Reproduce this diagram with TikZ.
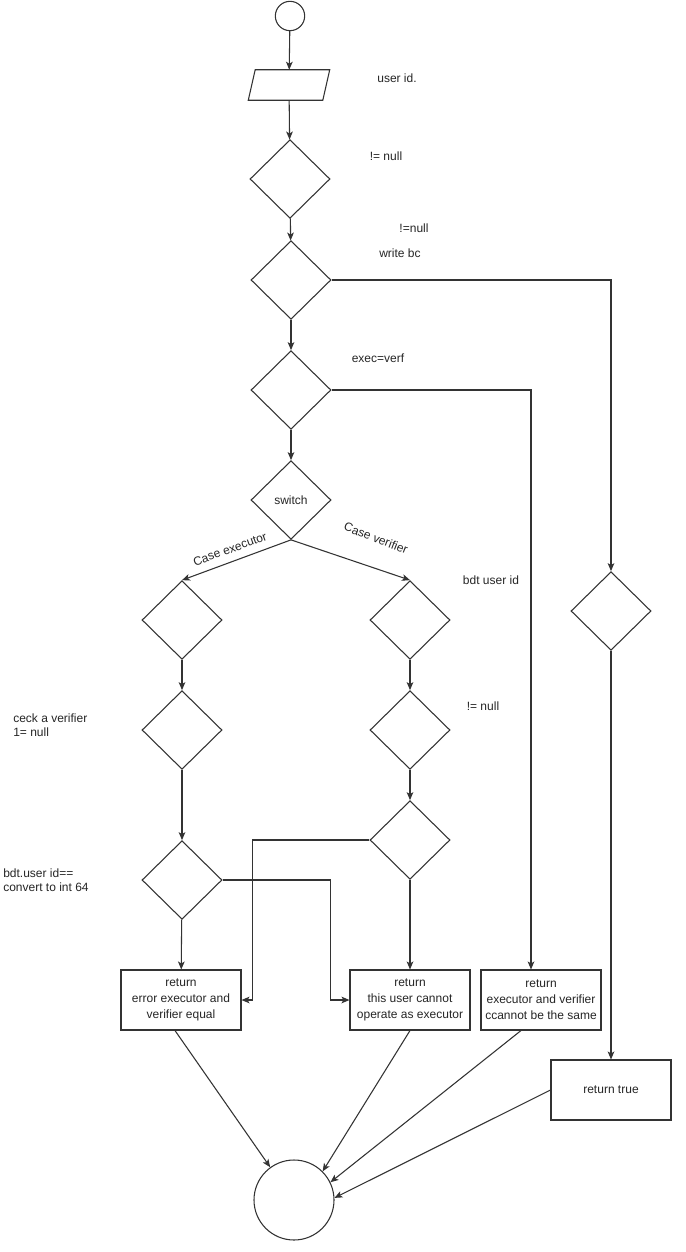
\documentclass[tikz,border=0pt]{standalone}
\usepackage{fontspec}
\setmainfont{Liberation Sans}
\usetikzlibrary{shapes.geometric,arrows.meta,calc}
\begin{document}
\begin{tikzpicture}[x=0.75pt,y=-0.75pt,
  lbl/.style={font=\fontsize{9}{10.5}\selectfont, text=black!85, inner sep=0pt},
  dia/.style={diamond, draw=black!80, line width=0.8pt, fill=white, minimum width=60pt, minimum height=59pt, inner sep=0pt, font=\fontsize{9}{10.5}\selectfont, text=black!85},
  box/.style={rectangle, draw=black!80, line width=0.8pt, fill=white, minimum width=90pt, minimum height=45pt, inner sep=1pt, align=center, font=\fontsize{9}{12}\selectfont, text=black!85},
  term/.style={circle, draw=black!80, line width=0.8pt, fill=white, inner sep=0pt},
  parbox/.style={rectangle, inner sep=0pt, minimum width=55.5pt, minimum height=22.5pt},
  arr/.style={-{Stealth[length=6pt,width=5pt,inset=1.5pt]}, draw=black!80, line width=0.8pt},
  ln/.style={draw=black!80, line width=0.8pt}]
\useasboundingbox[fill=white] (0,0) rectangle (685,1252);

% nodes
\node[term, minimum size=22pt] (start) at (290,16) {};
\node[parbox] (in) at (289,85) {};
\draw[ln, fill=white] ([xshift=2.6pt]in.north west) -- ([xshift=2.6pt]in.north east)
  -- ([xshift=-2.6pt]in.south east) -- ([xshift=-2.6pt]in.south west) -- cycle;
\node[dia] (d1) at (290,179) {};
\node[dia] (d2) at (291,280) {};
\node[dia] (d3) at (291,390) {};
\node[dia] (sw) at (291,500) {switch};
\node[dia] (d4) at (182,620) {};
\node[dia] (d5) at (410,620) {};
\node[dia] (d6) at (182,730) {};
\node[dia] (d7) at (410,730) {};
\node[dia] (d8) at (182,880) {};
\node[dia] (d9) at (410,840) {};
\node[dia] (rd) at (611,611) {};
\node[box] (b1) at (181,1000) {return\\error executor and\\verifier equal};
\node[box] (b2) at (410,1000) {return\\this user cannot\\operate as executor};
\node[box] (b3) at (541,1000) {return\\executor and verifier\\ccannot be the same};
\node[box] (bt) at (611,1090) {return true};
\node[term, minimum size=60pt] (end) at (294,1200) {};

% labels
\node[lbl] (l1) at (397,78) {user id.};
\node[lbl] (l2) at (386,156) {!= null};
\node[lbl] (l3) at (414,228) {!=null};
\node[lbl] (l4) at (400,253) {write bc};
\node[lbl] (l5) at (378,358) {exec=verf};
\node[lbl, rotate=20] (l6) at (230,549) {Case executor};
\node[lbl, rotate=-21] (l7) at (376,538) {Case verifier};
\node[lbl] (l8) at (491,580) {bdt user id};
\node[lbl] (l9) at (483,706) {!= null};
\node[lbl, anchor=west, align=left] (l10) at (13,725) {ceck a verifier\\ 1= null};
\node[lbl, anchor=west, align=left] (l11) at (3,880) {bdt.user id==\\convert to int 64};

% connectors
\draw[arr] (start) -- (in);
\draw[arr] (in) -- (d1);
\draw[arr] (d1) -- (d2);
\draw[arr] (d2) -- (d3);
\draw[arr] (d3) -- (sw);
\draw[arr] (sw.south) -- (d4.north);
\draw[arr] (sw.south) -- (d5.north);
\draw[arr] (d4) -- (d6);
\draw[arr] (d6) -- (d8);
\draw[arr] (d5) -- (d7);
\draw[arr] (d7) -- (d9);
\draw[arr] (d8) -- (b1);
\draw[arr] (d9) -- (b2);
\draw[arr] (d2.east) -| (rd.north);
\draw[arr] (d3.east) -| ([xshift=-7.5pt]b3.north);
\draw[arr] (rd) -- (bt);
\draw[arr] (d9.west) -| ([xshift=8pt]b1.east) -- (b1.east);
\draw[arr] (d8.east) -| ([xshift=-14pt]b2.west) -- (b2.west);
\draw[arr] ([xshift=-4.5pt]b1.south) -- (end.126);
\draw[arr] (b2.south) -- (end.45);
\draw[arr] ([xshift=-15pt]b3.south) -- (end.26);
\draw[arr] (bt.west) -- (end.3);
\end{tikzpicture}
\end{document}
